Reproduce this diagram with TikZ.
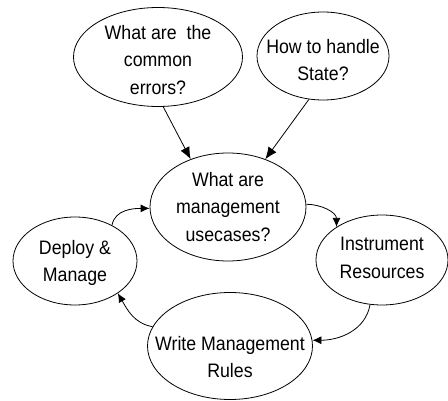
\documentclass[tikz,border=0pt]{standalone}
\usepackage{fontspec}
\setmainfont{Liberation Sans}[FakeStretch=0.91]
\usetikzlibrary{shapes.geometric,arrows.meta}
\begin{document}
\begin{tikzpicture}[x=1pt,y=1pt,
  ell/.style={draw,ellipse,line width=0.8pt,inner sep=0pt},
  txt/.style={align=center,font=\fontsize{19.5pt}{27.5pt}\selectfont,inner sep=0pt},
  arr/.style={line width=0.8pt,-{Latex[length=12pt,width=10pt]}},
  carr/.style={line width=0.8pt,-{Latex[length=9pt,width=8pt]}}]
\useasboundingbox (0,0) rectangle (448,400);
\node[ell,minimum width=169pt,minimum height=99pt] (err) at (158,343) {};
\node[ell,minimum width=132pt,minimum height=88pt] (st) at (323,344) {};
\node[ell,minimum width=156pt,minimum height=108pt] (cen) at (228,193) {};
\node[ell,minimum width=124pt,minimum height=88pt] (dep) at (75,139) {};
\node[ell,minimum width=132pt,minimum height=90pt] (ins) at (382,140) {};
\node[ell,minimum width=165pt,minimum height=107pt] (wr) at (230,54) {};
\node[txt] (terr) at (158,340) {What are~ the\\common\\errors?};
\node[txt] (tst) at (323,340) {How to handle\\State?};
\node[txt] (tcen) at (228,193) {What are\\management\\usecases?};
\node[txt] (tdep) at (75,137) {Deploy \&\\Manage};
\node[txt] (tins) at (382,142) {Instrument\\Resources};
\node[txt] (twr) at (230,43) {Write Management\\Rules};
\draw[arr] (err.-84) -- (cen.128);
\draw[arr] (st.-108) -- (cen.52);
\draw[carr] (cen.2) to[out=0,in=90] (ins.144);
\draw[carr] (ins.-105) to[out=-100,in=0] (wr.4);
\draw[carr] (wr.166) to[out=170,in=-60] (dep.-37);
\draw[carr] (dep.44) to[out=80,in=180] (cen.181);
\end{tikzpicture}
\end{document}
